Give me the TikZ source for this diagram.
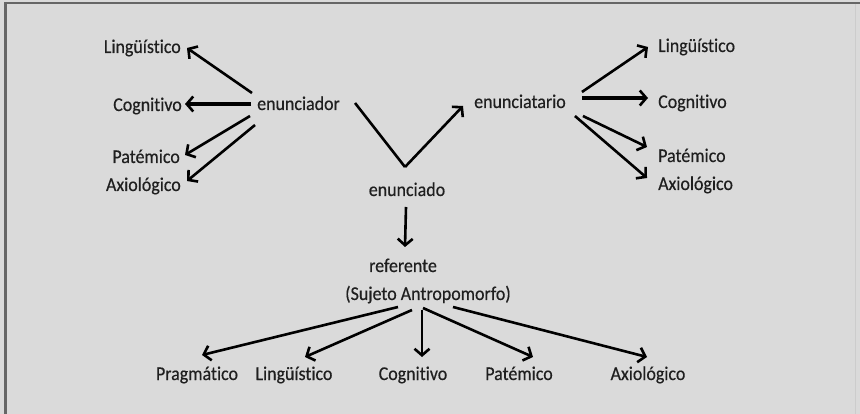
\documentclass[tikz,border=0pt]{standalone}
\usepackage{fontspec}
\setmainfont[Ligatures=NoCommon,FakeStretch=0.92,FakeBold=0.4]{Carlito}
\usetikzlibrary{arrows.meta}
\begin{document}
\begin{tikzpicture}[x=1pt,y=-1pt,
  lbl/.style={inner sep=0pt,text=black!88,font=\fontsize{19.5}{22}\selectfont},
  arr/.style={line width=2.6pt,-{Straight Barb[length=6.5pt,width=15pt,line width=2.6pt]}},
  arrb/.style={arr,line width=3.4pt},
  plain/.style={line width=2.6pt}]
% background and frame
\fill[fill={rgb,255:red,218;green,218;blue,218}] (0,0) rectangle (860,414);
\useasboundingbox (0,0) rectangle (860,414);
\draw[line width=2pt,draw=black!60] (5.5,3) -- (860,3);
\draw[line width=2.5pt,draw=black!60] (5.5,2) -- (5.5,414);
\draw[line width=1pt,draw=black!20] (855.5,4) -- (855.5,414);

% left group
\node[lbl,anchor=base west] (enunciador) at (257,110) {enunciador};
\node[lbl,anchor=base east] (lingL) at (181,53) {Lingüístico};
\node[lbl,anchor=base east] (cogL) at (182,111) {Cognitivo};
\node[lbl,anchor=base east] (patL) at (180,163) {Patémico};
\node[lbl,anchor=base east] (axiL) at (181,191) {Axiológico};
\draw[arr] ([shift={(-5,-17)}]enunciador.base west) -- ([shift={(6,-5)}]lingL.base east);
\draw[arrb] ([shift={(-6,-6)}]enunciador.base west) -- ([shift={(3,-7)}]cogL.base east);
\draw[arr] ([shift={(-7,6)}]enunciador.base west) -- ([shift={(5,-8)}]patL.base east);
\draw[arr] ([shift={(-2,15)}]enunciador.base west) -- ([shift={(6,-10)}]axiL.base east);

% centre
\node[lbl,anchor=base] (enunciado) at (407,196) {enunciado};
\node[lbl,anchor=base west] (enunciatario) at (474,108) {enunciatario};
\coordinate (vtx) at ([shift={(-2,-29)}]enunciado.base);
\draw[plain] ([shift={(15,-7)}]enunciador.base east) -- (vtx);
\draw[arr] (vtx) -- ([shift={(-11,-2)}]enunciatario.base west);

% right group
\node[lbl,anchor=base west] (lingR) at (658,52) {Lingüístico};
\node[lbl,anchor=base west] (cogR) at (658,108) {Cognitivo};
\node[lbl,anchor=base west] (patR) at (658,162) {Patémico};
\node[lbl,anchor=base west] (axiR) at (658,190) {Axiológico};
\draw[arr] ([shift={(16,-16)}]enunciatario.base east) -- ([shift={(-10,-5)}]lingR.base west);
\draw[arrb] ([shift={(16,-10)}]enunciatario.base east) -- ([shift={(-10,-10)}]cogR.base west);
\draw[arr] ([shift={(17,8)}]enunciatario.base east) -- ([shift={(-11,-15)}]patR.base west);
\draw[arr] ([shift={(9,8)}]enunciatario.base east) -- ([shift={(-11,-12)}]axiR.base west);

% referente
\node[lbl,anchor=base] (referente) at (403,272) {referente};
\node[lbl,anchor=base] (sujeto) at (428,300) {(Sujeto Antropomorfo)};
\draw[arr] ([shift={(-1,11)}]enunciado.base) -- ([shift={(2,-25)}]referente.base);

% bottom row
\node[lbl,anchor=base] (pragB) at (197,380) {Pragmático};
\node[lbl,anchor=base] (lingB) at (294,380) {Lingüístico};
\node[lbl,anchor=base] (cogB) at (413,380) {Cognitivo};
\node[lbl,anchor=base] (patB) at (519,380) {Patémico};
\node[lbl,anchor=base] (axiB) at (648,380) {Axiológico};
\draw[arr] ([shift={(-30,7)}]sujeto.base) -- ([shift={(5,-25)}]pragB.base);
\draw[arr] ([shift={(-16,10)}]sujeto.base) -- ([shift={(11,-23)}]lingB.base);
\draw[arr] ([shift={(-6,10)}]sujeto.base) -- ([shift={(9,-23)}]cogB.base);
\draw[arr] ([shift={(-5,8)}]sujeto.base) -- ([shift={(14,-23)}]patB.base);
\draw[arr] ([shift={(25,7)}]sujeto.base) -- ([shift={(-1,-23)}]axiB.base);
\end{tikzpicture}
\end{document}
